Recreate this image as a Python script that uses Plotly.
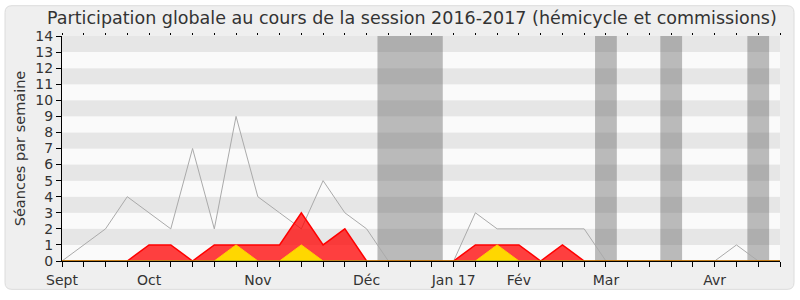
import plotly.graph_objects as go

# ---- data (weekly, index 0..33) ----
weeks = list(range(34))
total = [0, 1, 2, 4, 3, 2, 7, 2, 9, 4, 3, 2, 5, 3, 2, 0, 0, 0, 0, 3, 2, 2, 2, 2, 2, 0, 0, 0, 0, 0, 0, 1, 0, 0]
hemicycle = [0, 0, 0, 0, 1, 1, 0, 1, 1, 1, 1, 3, 1, 2, 0, 0, 0, 0, 0, 1, 1, 1, 0, 1, 0, 0, 0, 0, 0, 0, 0, 0, 0, 0]
interventions = [0, 0, 0, 0, 0, 0, 0, 0, 1, 0, 0, 1, 0, 0, 0, 0, 0, 0, 0, 0, 1, 0, 0, 0, 0, 0, 0, 0, 0, 0, 0, 0, 0, 0]
questions = [0] * 34
month_pos = [0, 4, 9, 14, 18, 21, 25, 30]
month_labels = ["Sept", "Oct", "Nov", "Déc", "Jan 17", "Fév", "Mar", "Avr"]
vacations = [(14.5, 17.5), (24.5, 25.5), (27.5, 28.5), (31.5, 32.5)]

W, H = 800, 300
L, R, T, B = 62, 20, 36, 34
pw, ph = W - L - R, H - T - B

def px(x):
    return (x - L) / pw

def py(y):
    return (H - B - y) / ph

shapes = []
# outer rounded box
x0, x1, y0, y1, r = 5, 794, 5, 295, 7
path = (f"M {px(x0 + r)},{py(y0)} L {px(x1 - r)},{py(y0)} Q {px(x1)},{py(y0)} {px(x1)},{py(y0 + r)} "
        f"L {px(x1)},{py(y1 - r)} Q {px(x1)},{py(y1)} {px(x1 - r)},{py(y1)} "
        f"L {px(x0 + r)},{py(y1)} Q {px(x0)},{py(y1)} {px(x0)},{py(y1 - r)} "
        f"L {px(x0)},{py(y0 + r)} Q {px(x0)},{py(y0)} {px(x0 + r)},{py(y0)} Z")
shapes.append(dict(type="path", xref="paper", yref="paper", path=path,
                   fillcolor="#efefef", line=dict(color="#dcdcdc", width=1), layer="below"))
# stripes
for k in range(0, 14):
    shapes.append(dict(type="rect", xref="x", yref="y", x0=0, x1=33, y0=k, y1=k + 1,
                       fillcolor="#e6e6e6" if k % 2 else "#fafafa",
                       line=dict(width=0), layer="below"))
# vacations
for a, b in vacations:
    shapes.append(dict(type="rect", xref="x", yref="y", x0=a, x1=b, y0=0, y1=14,
                       fillcolor="rgba(90,90,90,0.4)", line=dict(width=0), layer="below"))

fig = go.Figure()
fig.add_trace(go.Scatter(x=weeks, y=total, mode="lines",
                         line=dict(color="#aaaaaa", width=1), hoverinfo="skip"))
fig.add_trace(go.Scatter(x=weeks, y=hemicycle, mode="lines", fill="tozeroy",
                         fillcolor="rgba(255,0,0,0.75)", line=dict(color="#ff0000", width=1.5),
                         hoverinfo="skip"))
fig.add_trace(go.Scatter(x=weeks, y=interventions, mode="lines", fill="tozeroy",
                         fillcolor="#ffd700", line=dict(color="#ffd000", width=1),
                         hoverinfo="skip"))
fig.add_trace(go.Scatter(x=weeks, y=questions, mode="lines",
                         line=dict(color="#207020", width=0.5), hoverinfo="skip"))
fig.add_trace(go.Scatter(x=[0, 33], y=[0, 0], xaxis="x2", mode="lines",
                         line=dict(width=0), hoverinfo="skip", showlegend=False))

ticktext = [month_labels[month_pos.index(w)] if w in month_pos else "" for w in weeks]

font = "DejaVu Sans"
fig.update_layout(
    width=W, height=H,
    margin=dict(l=L, r=R, t=T, b=B),
    paper_bgcolor="white", plot_bgcolor="#fafafa",
    showlegend=False,
    font=dict(family=font, size=14, color="#333333"),
    shapes=shapes,
    xaxis=dict(range=[0, 33], tickmode="array", tickvals=weeks, ticktext=ticktext,
               ticks="outside", ticklen=5, tickcolor="#000000", showgrid=False, zeroline=False,
               showline=True, linecolor="#000000", linewidth=1, ticklabelstandoff=1,
               tickfont=dict(size=14, color="#333333")),
    xaxis2=dict(range=[0, 33], overlaying="x", side="top", anchor="y", tickmode="array",
                tickvals=weeks, ticktext=[""] * 34, ticks="outside", ticklen=2,
                tickcolor="#000000", showgrid=False, zeroline=False, showline=False),
    yaxis=dict(range=[0, 14], tickmode="array", tickvals=list(range(15)),
               ticks="outside", ticklen=5, tickcolor="#000000", showgrid=False, zeroline=False,
               showline=True, linecolor="#000000", linewidth=1,
               tickfont=dict(size=14, color="#333333"),
               title=dict(text="Séances par semaine", font=dict(size=14.5, color="#333333"),
                          standoff=6)),
    annotations=[dict(text="Participation globale au cours de la session 2016-2017 (hémicycle et commissions)",
                      xref="paper", yref="paper", x=px(412), y=py(18), xanchor="center",
                      yanchor="middle", showarrow=False,
                      font=dict(family=font, size=17.5, color="#333333"))],
)

fig.write_html("out.html")
